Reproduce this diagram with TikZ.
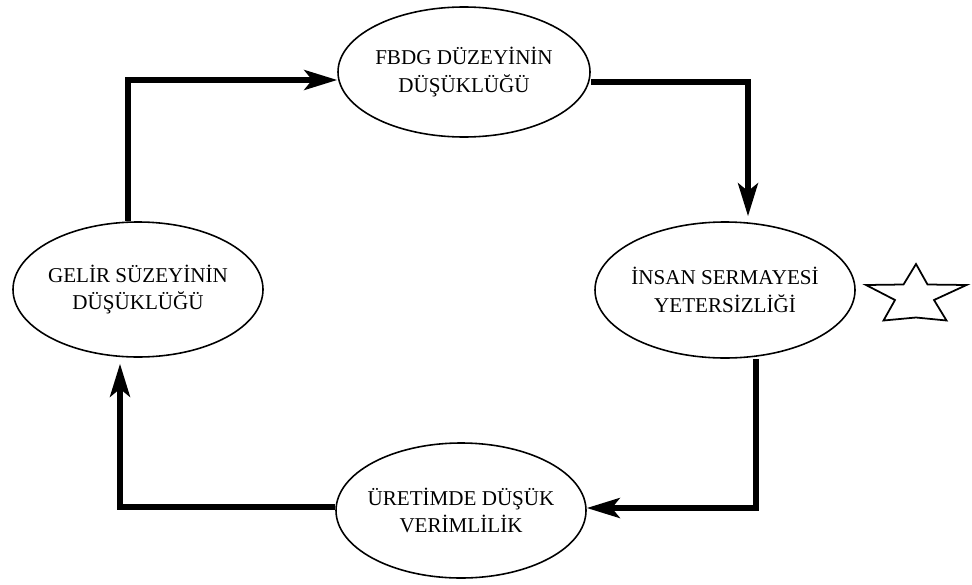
\documentclass[tikz,border=0pt]{standalone}
\usepackage{fontspec}
\setmainfont{Liberation Serif}
\usetikzlibrary{shapes.geometric,arrows.meta}

\begin{document}
\begin{tikzpicture}

\tikzset{
    oval/.style={ellipse,draw,line width=0.9pt,inner sep=-10pt,align=center,
        font=\fontsize{12}{15.5}\selectfont,minimum width=5cm,minimum height=2.7cm},
    flow/.style={line width=3pt,-{Stealth[length=0.66cm,width=0.4cm,inset=0.16cm]}}}

\useasboundingbox (0,0) rectangle (19.44,11.68);

\node[oval, minimum width=5.04cm, minimum height=2.6cm] (F) at (9.28,10.24) {FBDG DÜZEYİNİN\\DÜŞÜKLÜĞÜ};
\node[oval, minimum width=5.2cm, minimum height=2.72cm] (I) at (14.5,5.88) {İNSAN SERMAYESİ\\YETERSİZLİĞİ};
\node[oval] (U) at (9.22,1.47) {ÜRETİMDE DÜŞÜK\\VERİMLİLİK};
\node[oval] (G) at (2.76,5.89) {GELİR SÜZEYİNİN\\DÜŞÜKLÜĞÜ};

\coordinate (P) at (2.56,10.08);
\coordinate (Q) at (14.96,10.04);
\coordinate (R) at (15.12,1.52);
\coordinate (S) at (2.4,1.54);

\draw[flow] (G.north -| P) -- (P) -- (F.west |- P);
\draw[flow, shorten >=0.1cm] (F.east |- Q) -- (Q) -- (Q |- I.north);
\draw[flow] (I.south -| R) -- (R) -- (U.east |- R);
\draw[flow, shorten >=0.12cm] (U.west |- S) -- (S) -- (S |- G.south);

%\node[star] ...
\draw[line width=1pt] (18.32,6.40) -- (18.55,5.99) -- (19.33,5.98) -- (18.68,5.68)
    -- (18.93,5.27) -- (18.32,5.33) -- (17.67,5.27) -- (17.90,5.68) -- (17.32,5.98)
    -- (18.07,5.99) -- cycle;

\end{tikzpicture}
\end{document}
